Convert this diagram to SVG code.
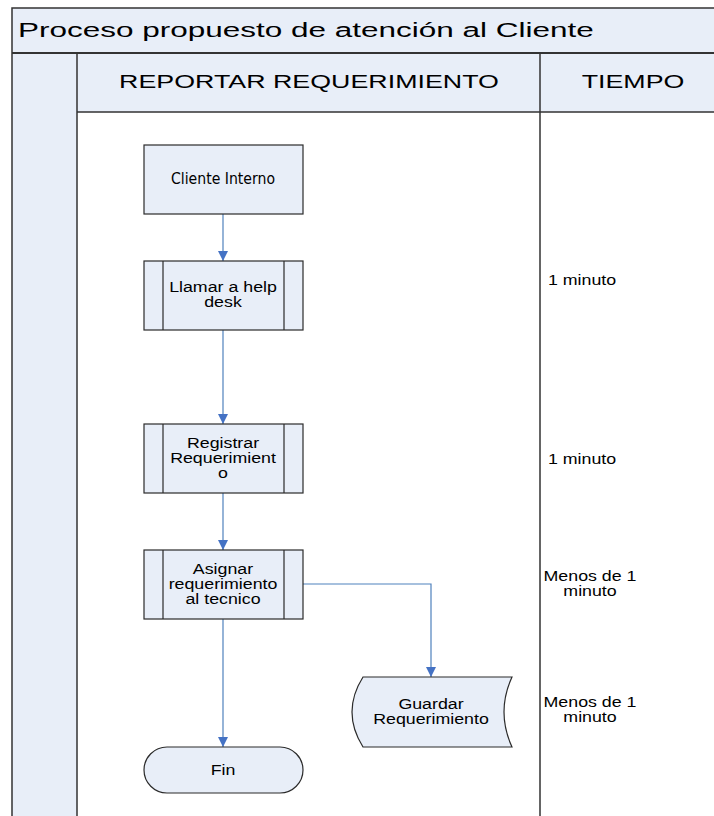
<svg xmlns="http://www.w3.org/2000/svg" width="714" height="816" viewBox="0 0 714 816">
<style>
.lane{fill:#E8EEF8;stroke:none}
.frame{fill:none;stroke:#333;stroke-width:1.5}
.box{fill:#E8EEF8;stroke:#2b2b2b;stroke-width:1.2}
.sub{fill:none;stroke:#2b2b2b;stroke-width:1.2}
.t{font-family:"Liberation Sans",Arial,sans-serif;font-size:14px;fill:#000;text-anchor:middle}
.h{font-family:"Liberation Sans",Arial,sans-serif;font-size:18px;fill:#000;text-anchor:middle}
.title{font-family:"Liberation Sans",Arial,sans-serif;font-size:21px;fill:#000}
.c{fill:none;stroke:#4F81BD;stroke-width:1.2}
</style>
<defs>
<marker id="ah" viewBox="0 0 10 10" refX="10" refY="5" markerWidth="10" markerHeight="10" markerUnits="userSpaceOnUse" orient="auto">
<path d="M0,0 L10,5 L0,10 Z" fill="#4472C4"/>
</marker>
</defs>
<rect width="714" height="816" fill="#fff"/>
<g id="pool">
<rect class="lane" x="12" y="8" width="702" height="45"/>
<rect class="lane" x="12" y="53" width="65" height="763"/>
<rect class="lane" x="77" y="53" width="637" height="59"/>
<path class="frame" d="M12,816 V8 H714"/>
<path d="M12,53 H714" stroke="#333" stroke-width="2.2" fill="none"/>
<path class="frame" d="M77,53 V816 M540,53 V816 M77,112 H714"/>
<text class="title" transform="translate(18,37) scale(1.5,1)" x="0" y="0">Proceso propuesto de atención al Cliente</text>
<text class="h" transform="translate(309,88) scale(1.49,1)" x="0" y="0">REPORTAR REQUERIMIENTO</text>
<text class="h" transform="translate(633,88) scale(1.49,1)" x="0" y="0">TIEMPO</text>
</g>
<g id="connectors">
<path class="c" d="M223,214 V261" marker-end="url(#ah)"/>
<path class="c" d="M223,330 V424" marker-end="url(#ah)"/>
<path class="c" d="M223,493 V550" marker-end="url(#ah)"/>
<path class="c" d="M223,619 V747" marker-end="url(#ah)"/>
<path class="c" d="M303,584 H431 V677" marker-end="url(#ah)"/>
</g>
<g id="cliente">
<rect class="box" x="144" y="145" width="159" height="69"/>
<text x="223" y="184" text-anchor="middle" textLength="104" lengthAdjust="spacingAndGlyphs" style="font-family:'DejaVu Sans Condensed','DejaVu Sans',sans-serif;font-size:15.5px;font-stretch:condensed">Cliente Interno</text>
</g>
<g id="llamar">
<rect class="box" x="144" y="261" width="159" height="69"/>
<path class="sub" d="M163,261 V330 M284,261 V330"/>
<text class="t" transform="translate(223,292) scale(1.27,1)">Llamar a help</text>
<text class="t" transform="translate(223,307) scale(1.27,1)">desk</text>
</g>
<g id="registrar">
<rect class="box" x="144" y="424" width="159" height="69"/>
<path class="sub" d="M163,424 V493 M284,424 V493"/>
<text class="t" transform="translate(223,448) scale(1.27,1)">Registrar</text>
<text class="t" transform="translate(223,463) scale(1.27,1)">Requerimient</text>
<text class="t" transform="translate(223,478) scale(1.27,1)">o</text>
</g>
<g id="asignar">
<rect class="box" x="144" y="550" width="159" height="69"/>
<path class="sub" d="M163,550 V619 M284,550 V619"/>
<text class="t" transform="translate(223,573.5) scale(1.27,1)">Asignar</text>
<text class="t" transform="translate(223,588.5) scale(1.27,1)">requerimiento</text>
<text class="t" transform="translate(223,603.5) scale(1.27,1)">al tecnico</text>
</g>
<g id="guardar">
<path class="box" d="M363,677 L512,677 Q496,712 512,747 L363,747 Q341,712 363,677 Z"/>
<text class="t" transform="translate(431,709) scale(1.27,1)">Guardar</text>
<text class="t" transform="translate(431,723.5) scale(1.27,1)">Requerimiento</text>
</g>
<g id="fin">
<rect class="box" x="144" y="747" width="159" height="46" rx="23" ry="23"/>
<text class="t" transform="translate(223,775) scale(1.27,1)">Fin</text>
</g>
<g id="tiempos">
<text class="t" transform="translate(582,285) scale(1.27,1)">1 minuto</text>
<text class="t" transform="translate(582,463.5) scale(1.27,1)">1 minuto</text>
<text class="t" transform="translate(590,581) scale(1.27,1)">Menos de 1</text>
<text class="t" transform="translate(590,596) scale(1.27,1)">minuto</text>
<text class="t" transform="translate(590,707) scale(1.27,1)">Menos de 1</text>
<text class="t" transform="translate(590,722) scale(1.27,1)">minuto</text>
</g>
</svg>
